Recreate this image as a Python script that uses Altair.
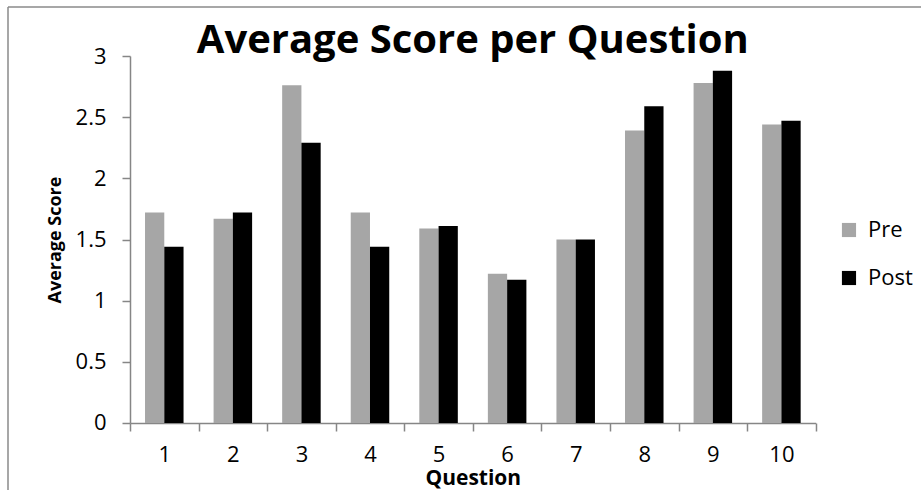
import altair as alt
import pandas as pd

questions = ["1", "2", "3", "4", "5", "6", "7", "8", "9", "10"]
pre = [1.72, 1.67, 2.76, 1.72, 1.59, 1.22, 1.50, 2.39, 2.78, 2.44]
post = [1.44, 1.72, 2.29, 1.44, 1.61, 1.17, 1.50, 2.59, 2.88, 2.47]
series = ["Pre", "Post"]
colors = ["#a6a6a6", "#000000"]
y_ticks = [0, 0.5, 1, 1.5, 2, 2.5, 3]

rows = []
for i, q in enumerate(questions):
    rows.append({"Question": q, "Series": "Pre", "Score": pre[i]})
    rows.append({"Question": q, "Series": "Post", "Score": post[i]})
df = pd.DataFrame(rows)

FONT = "Open Sans"
AXIS_GRAY = "#868686"

bars = alt.Chart(df).mark_bar().encode(
    x=alt.X("Question:N", sort=questions,
            scale=alt.Scale(paddingInner=0, paddingOuter=0),
            axis=alt.Axis(title="Question", labelAngle=0, tickBand="extent",
                          tickSize=8, labelPadding=14, titlePadding=2,
                          labelFontSize=22, titleFontSize=21)),
    xOffset=alt.XOffset("Series:N", sort=series,
                        scale=alt.Scale(paddingInner=0, paddingOuter=0.78)),
    y=alt.Y("Score:Q", scale=alt.Scale(domain=[0, 3], nice=False),
            axis=alt.Axis(title="Average Score", values=y_ticks, format=".1~f",
                          tickSize=8, labelPadding=16, titlePadding=11,
                          labelFontSize=22, titleFontSize=18, grid=False)),
    color=alt.Color("Series:N", sort=series,
                    scale=alt.Scale(domain=series, range=colors),
                    legend=alt.Legend(title=None, orient="none", legendX=708,
                                      legendY=163, symbolType="square",
                                      symbolSize=200, symbolStrokeWidth=0,
                                      labelFontSize=22, labelFont=FONT,
                                      labelOffset=8, rowPadding=26,
                                      labelColor="#000000")),
)

border = alt.Chart(pd.DataFrame({"k": [0]})).mark_rule(
    color="#8a8a8a", strokeWidth=1.5
)
left_border = border.encode(x=alt.value(-122), y=alt.value(-49), y2=alt.value(440))
top_border = border.encode(x=alt.value(-122), x2=alt.value(800), y=alt.value(-49))

chart = alt.layer(bars, left_border, top_border).properties(
    width=685.7,
    height=367,
    title=alt.TitleParams("Average Score per Question", fontSize=40,
                          font=FONT, fontWeight="bold", anchor="middle",
                          color="#000000", offset=-55),
    autosize=alt.AutoSizeParams(type="none"),
    padding={"left": 130, "top": 56, "right": 105, "bottom": 67},
).configure_view(stroke=None).configure_axis(
    domainColor=AXIS_GRAY, tickColor=AXIS_GRAY, domainWidth=1.5,
    tickWidth=1.5, labelFont=FONT, titleFont=FONT, labelColor="#000000",
    titleColor="#000000", titleFontWeight="bold"
)

chart.save("out.html", embed_options={"renderer": "svg", "actions": False})
